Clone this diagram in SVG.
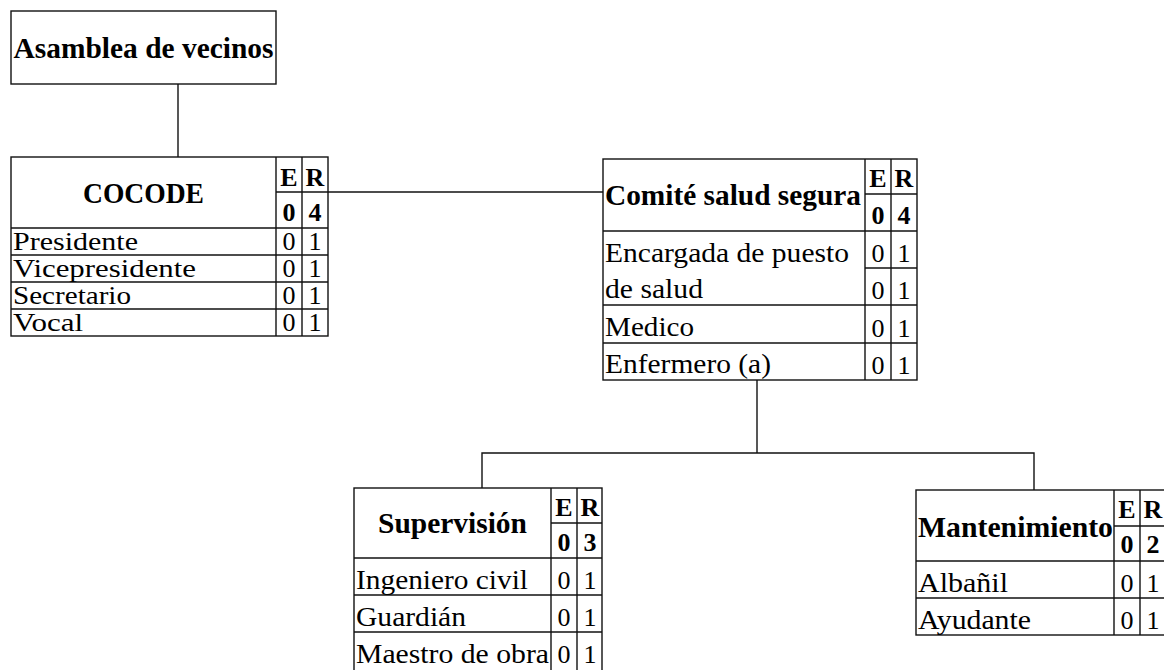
<svg xmlns="http://www.w3.org/2000/svg" width="1164" height="670" viewBox="0 0 1164 670">
<style>
  rect, line, polyline { fill: none; stroke: #111; stroke-width: 1.4; }
  .bg { fill: #fff; stroke: none; }
  text { font-family: "Liberation Serif", "Times New Roman", serif; fill: #000; }
  .h { font-size: 29px; font-weight: bold; }
  .t { font-size: 28px; }
  .s { font-size: 26px; }
  .er { font-size: 26px; font-weight: bold; text-anchor: middle; }
  .n { font-size: 26px; text-anchor: middle; }
  .c { text-anchor: middle; }
</style>
<rect class="bg" x="0" y="0" width="1164" height="670"/>
<g id="connectors">
  <line x1="178" y1="84" x2="178" y2="157"/>
  <line x1="328" y1="192" x2="603" y2="192"/>
  <line x1="757" y1="380" x2="757" y2="453"/>
  <polyline points="482,488 482,453 1034,453 1034,490"/>
</g>
<g id="asamblea">
  <rect x="11" y="11" width="265" height="73"/>
  <text class="h c" x="143.5" y="58" textLength="260" lengthAdjust="spacingAndGlyphs">Asamblea de vecinos</text>
</g>
<g id="cocode">
  <rect x="11" y="157" width="317" height="179"/>
  <line x1="276" y1="157" x2="276" y2="336"/>
  <line x1="302" y1="157" x2="302" y2="336"/>
  <line x1="276" y1="192" x2="328" y2="192"/>
  <line x1="11" y1="228" x2="328" y2="228"/>
  <line x1="11" y1="255" x2="328" y2="255"/>
  <line x1="11" y1="282" x2="328" y2="282"/>
  <line x1="11" y1="309" x2="328" y2="309"/>
  <text class="h c" x="143.5" y="203" textLength="121" lengthAdjust="spacingAndGlyphs">COCODE</text>
  <text class="er" x="289" y="186">E</text><text class="er" x="315" y="186">R</text>
  <text class="er" x="289" y="221">0</text><text class="er" x="315" y="221">4</text>
  <text class="s" x="13" y="250" textLength="125" lengthAdjust="spacingAndGlyphs">Presidente</text>
  <text class="s" x="13" y="277" textLength="183" lengthAdjust="spacingAndGlyphs">Vicepresidente</text>
  <text class="s" x="13" y="304" textLength="118" lengthAdjust="spacingAndGlyphs">Secretario</text>
  <text class="s" x="13" y="331" textLength="70" lengthAdjust="spacingAndGlyphs">Vocal</text>
  <text class="n" x="289" y="250">0</text><text class="n" x="315" y="250">1</text>
  <text class="n" x="289" y="277">0</text><text class="n" x="315" y="277">1</text>
  <text class="n" x="289" y="304">0</text><text class="n" x="315" y="304">1</text>
  <text class="n" x="289" y="331">0</text><text class="n" x="315" y="331">1</text>
</g>
<g id="comite">
  <rect x="603" y="159" width="314" height="221"/>
  <line x1="865" y1="159" x2="865" y2="380"/>
  <line x1="891" y1="159" x2="891" y2="380"/>
  <line x1="865" y1="194" x2="917" y2="194"/>
  <line x1="603" y1="231" x2="917" y2="231"/>
  <line x1="865" y1="268" x2="917" y2="268"/>
  <line x1="603" y1="305" x2="917" y2="305"/>
  <line x1="603" y1="343" x2="917" y2="343"/>
  <text class="h" x="605" y="205" textLength="256" lengthAdjust="spacingAndGlyphs">Comité salud segura</text>
  <text class="er" x="878" y="187">E</text><text class="er" x="904" y="187">R</text>
  <text class="er" x="878" y="224">0</text><text class="er" x="904" y="224">4</text>
  <text class="t" x="605" y="262" textLength="244" lengthAdjust="spacingAndGlyphs">Encargada de puesto</text>
  <text class="t" x="605" y="298" textLength="98" lengthAdjust="spacingAndGlyphs">de salud</text>
  <text class="t" x="605" y="336" textLength="89" lengthAdjust="spacingAndGlyphs">Medico</text>
  <text class="t" x="605" y="373" textLength="166" lengthAdjust="spacingAndGlyphs">Enfermero (a)</text>
  <text class="n" x="878" y="262">0</text><text class="n" x="904" y="262">1</text>
  <text class="n" x="878" y="299">0</text><text class="n" x="904" y="299">1</text>
  <text class="n" x="878" y="337">0</text><text class="n" x="904" y="337">1</text>
  <text class="n" x="878" y="374">0</text><text class="n" x="904" y="374">1</text>
</g>
<g id="supervision">
  <rect x="354" y="488" width="248" height="190"/>
  <line x1="551" y1="488" x2="551" y2="678"/>
  <line x1="577" y1="488" x2="577" y2="678"/>
  <line x1="551" y1="523" x2="602" y2="523"/>
  <line x1="354" y1="558" x2="602" y2="558"/>
  <line x1="354" y1="595" x2="602" y2="595"/>
  <line x1="354" y1="632" x2="602" y2="632"/>
  <text class="h c" x="452.5" y="533" textLength="149" lengthAdjust="spacingAndGlyphs">Supervisión</text>
  <text class="er" x="564" y="516">E</text><text class="er" x="590" y="516">R</text>
  <text class="er" x="564" y="551">0</text><text class="er" x="590" y="551">3</text>
  <text class="t" x="356" y="589" textLength="172" lengthAdjust="spacingAndGlyphs">Ingeniero civil</text>
  <text class="t" x="356" y="626" textLength="110" lengthAdjust="spacingAndGlyphs">Guardián</text>
  <text class="t" x="356" y="663" textLength="193" lengthAdjust="spacingAndGlyphs">Maestro de obra</text>
  <text class="n" x="564" y="589">0</text><text class="n" x="590" y="589">1</text>
  <text class="n" x="564" y="626">0</text><text class="n" x="590" y="626">1</text>
  <text class="n" x="564" y="663">0</text><text class="n" x="590" y="663">1</text>
</g>
<g id="mantenimiento">
  <rect x="916" y="490" width="260" height="145"/>
  <line x1="1114" y1="490" x2="1114" y2="635"/>
  <line x1="1140" y1="490" x2="1140" y2="635"/>
  <line x1="1114" y1="526" x2="1176" y2="526"/>
  <line x1="916" y1="561" x2="1176" y2="561"/>
  <line x1="916" y1="598" x2="1176" y2="598"/>
  <text class="h" x="918" y="537" textLength="195" lengthAdjust="spacingAndGlyphs">Mantenimiento</text>
  <text class="er" x="1127" y="518">E</text><text class="er" x="1153" y="518">R</text>
  <text class="er" x="1127" y="553">0</text><text class="er" x="1153" y="553">2</text>
  <text class="t" x="918" y="592" textLength="90" lengthAdjust="spacingAndGlyphs">Albañil</text>
  <text class="t" x="918" y="629" textLength="113" lengthAdjust="spacingAndGlyphs">Ayudante</text>
  <text class="n" x="1127" y="592">0</text><text class="n" x="1153" y="592">1</text>
  <text class="n" x="1127" y="629">0</text><text class="n" x="1153" y="629">1</text>
</g>
</svg>
